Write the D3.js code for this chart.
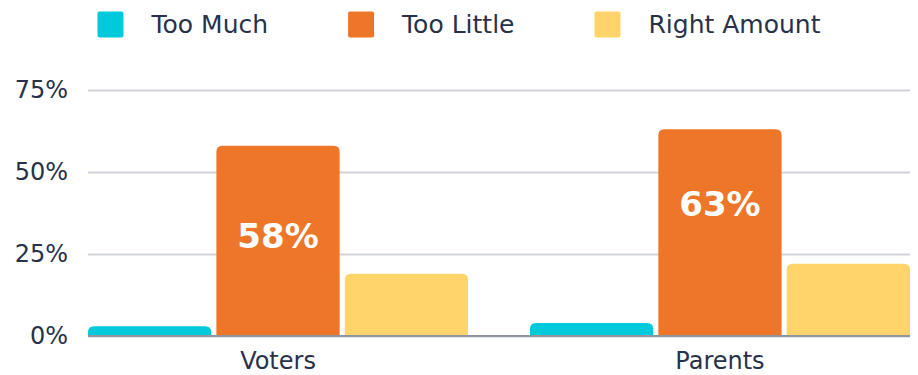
<!DOCTYPE html>
<html>
<head>
<meta charset="utf-8">
<script src="https://cdn.jsdelivr.net/npm/d3@7"></script>
<style>
  body { margin: 0; background: #fff; }
  text { font-family: "DejaVu Sans", sans-serif; fill: #27324a; }
</style>
</head>
<body>
<svg></svg>
<script>
const groups = ["Voters", "Parents"];
const series = ["Too Much", "Too Little", "Right Amount"];
const tooMuch = [3, 4];
const tooLittle = [58, 63];
const rightAmount = [19, 22];
const yTicks = [0, 25, 50, 75];

const colours = ["#00c9db", "#ed7628", "#ffd56b"];
const values = [tooMuch, tooLittle, rightAmount];

const width = 918;
const height = 375;

const svg = d3.select("svg")
  .attr("width", width)
  .attr("height", height);

const y = d3.scaleLinear()
  .domain([0, 75])
  .range([336, 90]);

const x0 = d3.scaleBand()
  .domain(groups)
  .range([88, 910])
  .paddingInner(0.14)
  .paddingOuter(0);

const x1 = d3.scaleBand()
  .domain(series)
  .range([0, x0.bandwidth()])
  .paddingInner(0.04);

// gridlines + tick labels
const yAxis = d3.axisLeft(y)
  .tickValues(yTicks)
  .tickFormat(d => d + "%")
  .tickSize(-(910 - 88))
  .tickPadding(20);

const axisG = svg.append("g")
  .attr("transform", "translate(88,0)")
  .call(yAxis);

axisG.select(".domain").remove();
axisG.selectAll(".tick line")
  .attr("stroke", "#d0d3d9")
  .attr("stroke-width", 2);
axisG.selectAll(".tick text")
  .attr("font-size", 24)
  .attr("font-family", "DejaVu Sans, sans-serif")
  .style("fill", "#27324a");

// bars with rounded tops
const topRounded = (x, yTop, w, h, r) => {
  r = Math.min(r, h, w / 2);
  return `M${x},${yTop + h}V${yTop + r}Q${x},${yTop} ${x + r},${yTop}` +
    `H${x + w - r}Q${x + w},${yTop} ${x + w},${yTop + r}V${yTop + h}Z`;
};

const barData = [];
groups.forEach((g, gi) => {
  series.forEach((s, si) => {
    barData.push({ group: g, series: s, si: si, value: values[si][gi], gi: gi });
  });
});

svg.append("g")
  .selectAll("path")
  .data(barData)
  .enter()
  .append("path")
  .attr("d", d => {
    const bx = x0(d.group) + x1(d.series);
    const top = y(d.value);
    return topRounded(bx, top, x1.bandwidth(), y(0) - top, 6);
  })
  .attr("fill", d => colours[d.si]);

// baseline
svg.append("line")
  .attr("x1", 88)
  .attr("x2", 910)
  .attr("y1", y(0))
  .attr("y2", y(0))
  .attr("stroke", "#8f959f")
  .attr("stroke-width", 2);

// value labels on the "Too Little" bars
const labelDrop = [90, 74];
svg.append("g")
  .selectAll("text")
  .data(barData.filter(d => d.series === "Too Little"))
  .enter()
  .append("text")
  .attr("x", d => x0(d.group) + x1(d.series) + x1.bandwidth() / 2)
  .attr("y", d => y(d.value) + labelDrop[d.gi])
  .attr("dy", "0.36em")
  .attr("text-anchor", "middle")
  .attr("font-size", 34)
  .attr("font-weight", "bold")
  .style("fill", "#ffffff")
  .text(d => d.value + "%");

// category labels
svg.append("g")
  .selectAll("text")
  .data(groups)
  .enter()
  .append("text")
  .attr("x", d => x0(d) + x0.bandwidth() / 2)
  .attr("y", 369)
  .attr("text-anchor", "middle")
  .attr("font-size", 24)
  .text(d => d);

// legend, centred
const legend = svg.append("g");
const items = legend.selectAll("g")
  .data(series)
  .enter()
  .append("g");

items.append("rect")
  .attr("width", 26)
  .attr("height", 26)
  .attr("y", 11.5)
  .attr("rx", 2)
  .attr("fill", (d, i) => colours[i]);

items.append("text")
  .attr("x", 54)
  .attr("y", 33)
  .attr("font-size", 25)
  .text(d => d);

let offset = 0;
items.each(function () {
  d3.select(this).attr("transform", `translate(${offset},0)`);
  offset += 54 + this.querySelector("text").getComputedTextLength() + 80;
});
const legendWidth = offset - 80;
legend.attr("transform", `translate(${(width - legendWidth) / 2},0)`);
</script>
</body>
</html>
